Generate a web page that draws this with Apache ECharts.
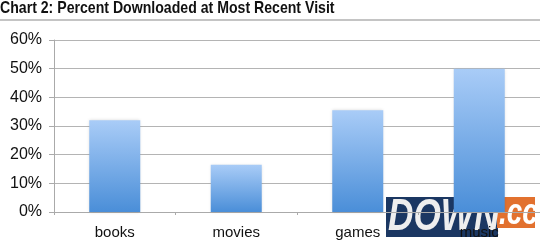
<!DOCTYPE html>
<html><head><meta charset="utf-8">
<script src="https://cdn.jsdelivr.net/npm/echarts@6/dist/echarts.min.js"></script>
<style>html,body{margin:0;padding:0;background:#fff}#c{width:540px;height:242px}</style>
</head><body><div id="c"></div>
<script>
const titleText = "Chart 2: Percent Downloaded at Most Recent Visit";
const categories = ["books", "movies", "games", "music"];
const values = [32, 16.5, 35.5, 50];
const yTicks = [0, 10, 20, 30, 40, 50, 60];

const chart = echarts.init(document.getElementById('c'), null, {renderer: 'canvas'});
chart.setOption({
  animation: false,
  backgroundColor: '#fff',
  grid: {left: 54, right: -15, top: 40, bottom: 30, containLabel: false},
  xAxis: {
    type: 'category', data: categories,
    axisLine: {show: true, lineStyle: {color: '#aaa', width: 1}},
    axisTick: {show: true, length: 3, lineStyle: {color: '#aaa'}},
    axisLabel: {color: '#111', fontSize: 15, fontFamily: 'Liberation Sans, Arial', margin: 13}
  },
  yAxis: {
    type: 'value', min: yTicks[0], max: yTicks[yTicks.length - 1], interval: 10,
    axisLine: {show: true, lineStyle: {color: '#aaa'}},
    axisTick: {show: true, length: 5, lineStyle: {color: '#aaa'}},
    splitLine: {show: true, lineStyle: {color: '#b4b4b4', width: 1}},
    axisLabel: {color: '#111', fontSize: 16, fontFamily: 'Liberation Sans, Arial', margin: 12,
      padding: [2, 0, 0, 0], formatter: v => v + '%'}
  },
  series: [{
    type: 'bar', data: values, barWidth: 51,
    itemStyle: {
      color: new echarts.graphic.LinearGradient(0, 0, 0, 1, [
        {offset: 0, color: '#a9ccf7'},
        {offset: 1, color: '#4a8ed8'}
      ]),
      shadowColor: 'rgba(0,0,0,0.15)', shadowBlur: 3
    }
  }],
  graphic: [
    {type: 'text', x: 0, y: 8, scaleX: 0.83,
      style: {text: titleText, fill: '#111', font: 'bold 17px "Liberation Sans", Arial', verticalAlign: 'middle'}},
    {type: 'rect', shape: {x: 0, y: 19, width: 540, height: 2}, style: {fill: '#c4c4c4'}},
    {type: 'rect', shape: {x: 386, y: 197, width: 112, height: 40}, style: {fill: '#1b3762'}},
    {type: 'rect', shape: {x: 497, y: 197, width: 38, height: 31}, style: {fill: '#e2712f'}},
    {type: 'text', x: 388, y: 218, scaleX: 0.8,
      style: {text: 'DOWN', fill: '#eeeeee', font: 'italic bold 44px "Liberation Sans", Arial', verticalAlign: 'middle'}},
    {type: 'text', x: 499, y: 214, scaleX: 0.75,
      style: {text: '.cc', fill: '#ffffff', font: 'italic bold 37px "Liberation Sans", Arial', verticalAlign: 'middle'}}
  ]
});
</script></body></html>
